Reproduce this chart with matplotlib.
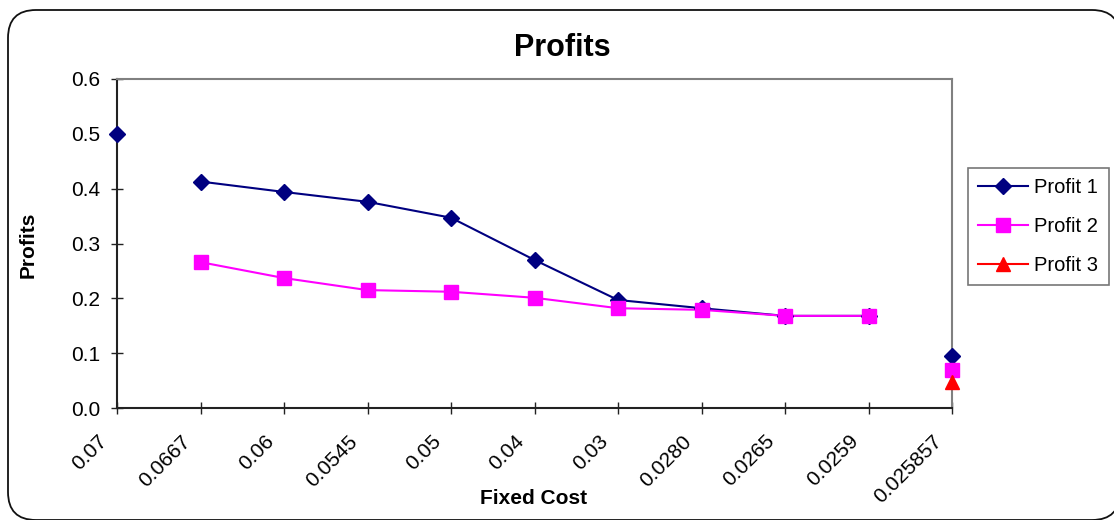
import matplotlib
matplotlib.use("Agg")
import matplotlib.pyplot as plt
import numpy as np
from matplotlib.patches import FancyBboxPatch
from matplotlib.transforms import ScaledTranslation

plt.rcParams["font.family"] = ["Liberation Sans", "DejaVu Sans"]

fixed_cost = ["0.07", "0.0667", "0.06", "0.0545", "0.05", "0.04",
              "0.03", "0.0280", "0.0265", "0.0259", "0.025857"]
profit_1 = [0.500, 0.413, 0.394, 0.376, 0.347, 0.270,
            0.197, 0.182, 0.168, 0.168, 0.095]
profit_2 = [np.nan, 0.266, 0.237, 0.215, 0.212, 0.201,
            0.182, 0.179, 0.168, 0.168, 0.069]
profit_3 = [np.nan, np.nan, np.nan, np.nan, np.nan, np.nan,
            np.nan, np.nan, np.nan, np.nan, 0.047]
# points plotted on their own (no connecting line in the original)
isolated = [0, 10]

W, H = 1114, 520
fig = plt.figure(figsize=(W / 100, H / 100), dpi=100)

# rounded outer frame
bg = fig.add_axes([0, 0, 1, 1])
bg.set_xlim(0, W)
bg.set_ylim(0, H)
bg.axis("off")
bg.add_patch(FancyBboxPatch((8, 0), 1112, 510,
                            boxstyle="round,pad=0,rounding_size=28",
                            fc="white", ec="#111111", lw=1.3))

x0, x1, y0, y1 = 117, 952, 79, 408
ax = fig.add_axes([x0 / W, (H - y1) / H, (x1 - x0) / W, (y1 - y0) / H])
ax.set_facecolor("none")

x = np.arange(len(fixed_cost))


def line_part(vals):
    v = np.array(vals, dtype=float)
    v[isolated] = np.nan
    return v


styles = [
    ("Profit 1", profit_1, "#000080", "D", 8),
    ("Profit 2", profit_2, "#FF00FF", "s", 9.5),
    ("Profit 3", profit_3, "#FF0000", "^", 10),
]
handles = []
for name, vals, col, mk, ms in styles:
    ax.plot(x, line_part(vals), color=col, lw=1.5, zorder=3)
    ax.plot(x, vals, ls="none", marker=mk, ms=ms, color=col, zorder=4,
            clip_on=False)
    h, = ax.plot([], [], color=col, lw=1.5, marker=mk, ms=ms, label=name)
    handles.append(h)

ax.set_xlim(0, len(fixed_cost) - 1)
ax.set_ylim(0, 0.6)
ax.set_yticks(np.arange(0, 0.61, 0.1))
ax.set_yticklabels([f"{v:.1f}" for v in np.arange(0, 0.61, 0.1)], fontsize=15)
ax.set_xticks(x)
ax.set_xticklabels(fixed_cost, fontsize=15, rotation=45, ha="right",
                   rotation_mode="anchor")
ax.tick_params(axis="both", direction="inout", length=8, width=1,
               color="#222222")
ax.tick_params(axis="x", pad=13)
ax.tick_params(axis="y", pad=8)
shift = ScaledTranslation(-20 / 100, 0, fig.dpi_scale_trans)
for lab in ax.get_xticklabels():
    lab.set_transform(lab.get_transform() + shift)
for s in ["left", "bottom"]:
    ax.spines[s].set_color("#222222")
    ax.spines[s].set_linewidth(1.5)
for s in ["top", "right"]:
    ax.spines[s].set_color("#808080")
    ax.spines[s].set_linewidth(1.5)

fig.text(562 / W, 1 - 48 / H, "Profits", fontsize=22, fontweight="bold",
         ha="center", va="center")
fig.text(534 / W, 1 - 498 / H, "Fixed Cost", fontsize=15, fontweight="bold",
         ha="center", va="center")
fig.text(28 / W, 1 - 245 / H, "Profits", fontsize=15, fontweight="bold",
         ha="center", va="center", rotation=90)

leg = fig.legend(handles=handles, loc="upper left",
                 bbox_to_anchor=(968 / W, 1 - 168 / H), fontsize=14.5,
                 frameon=True, fancybox=False, edgecolor="#555555",
                 handlelength=2.5, handletextpad=0.3, borderpad=0.5,
                 labelspacing=1.0, borderaxespad=0)
leg.get_frame().set_linewidth(1.2)

fig.savefig("out.png", dpi=100)
